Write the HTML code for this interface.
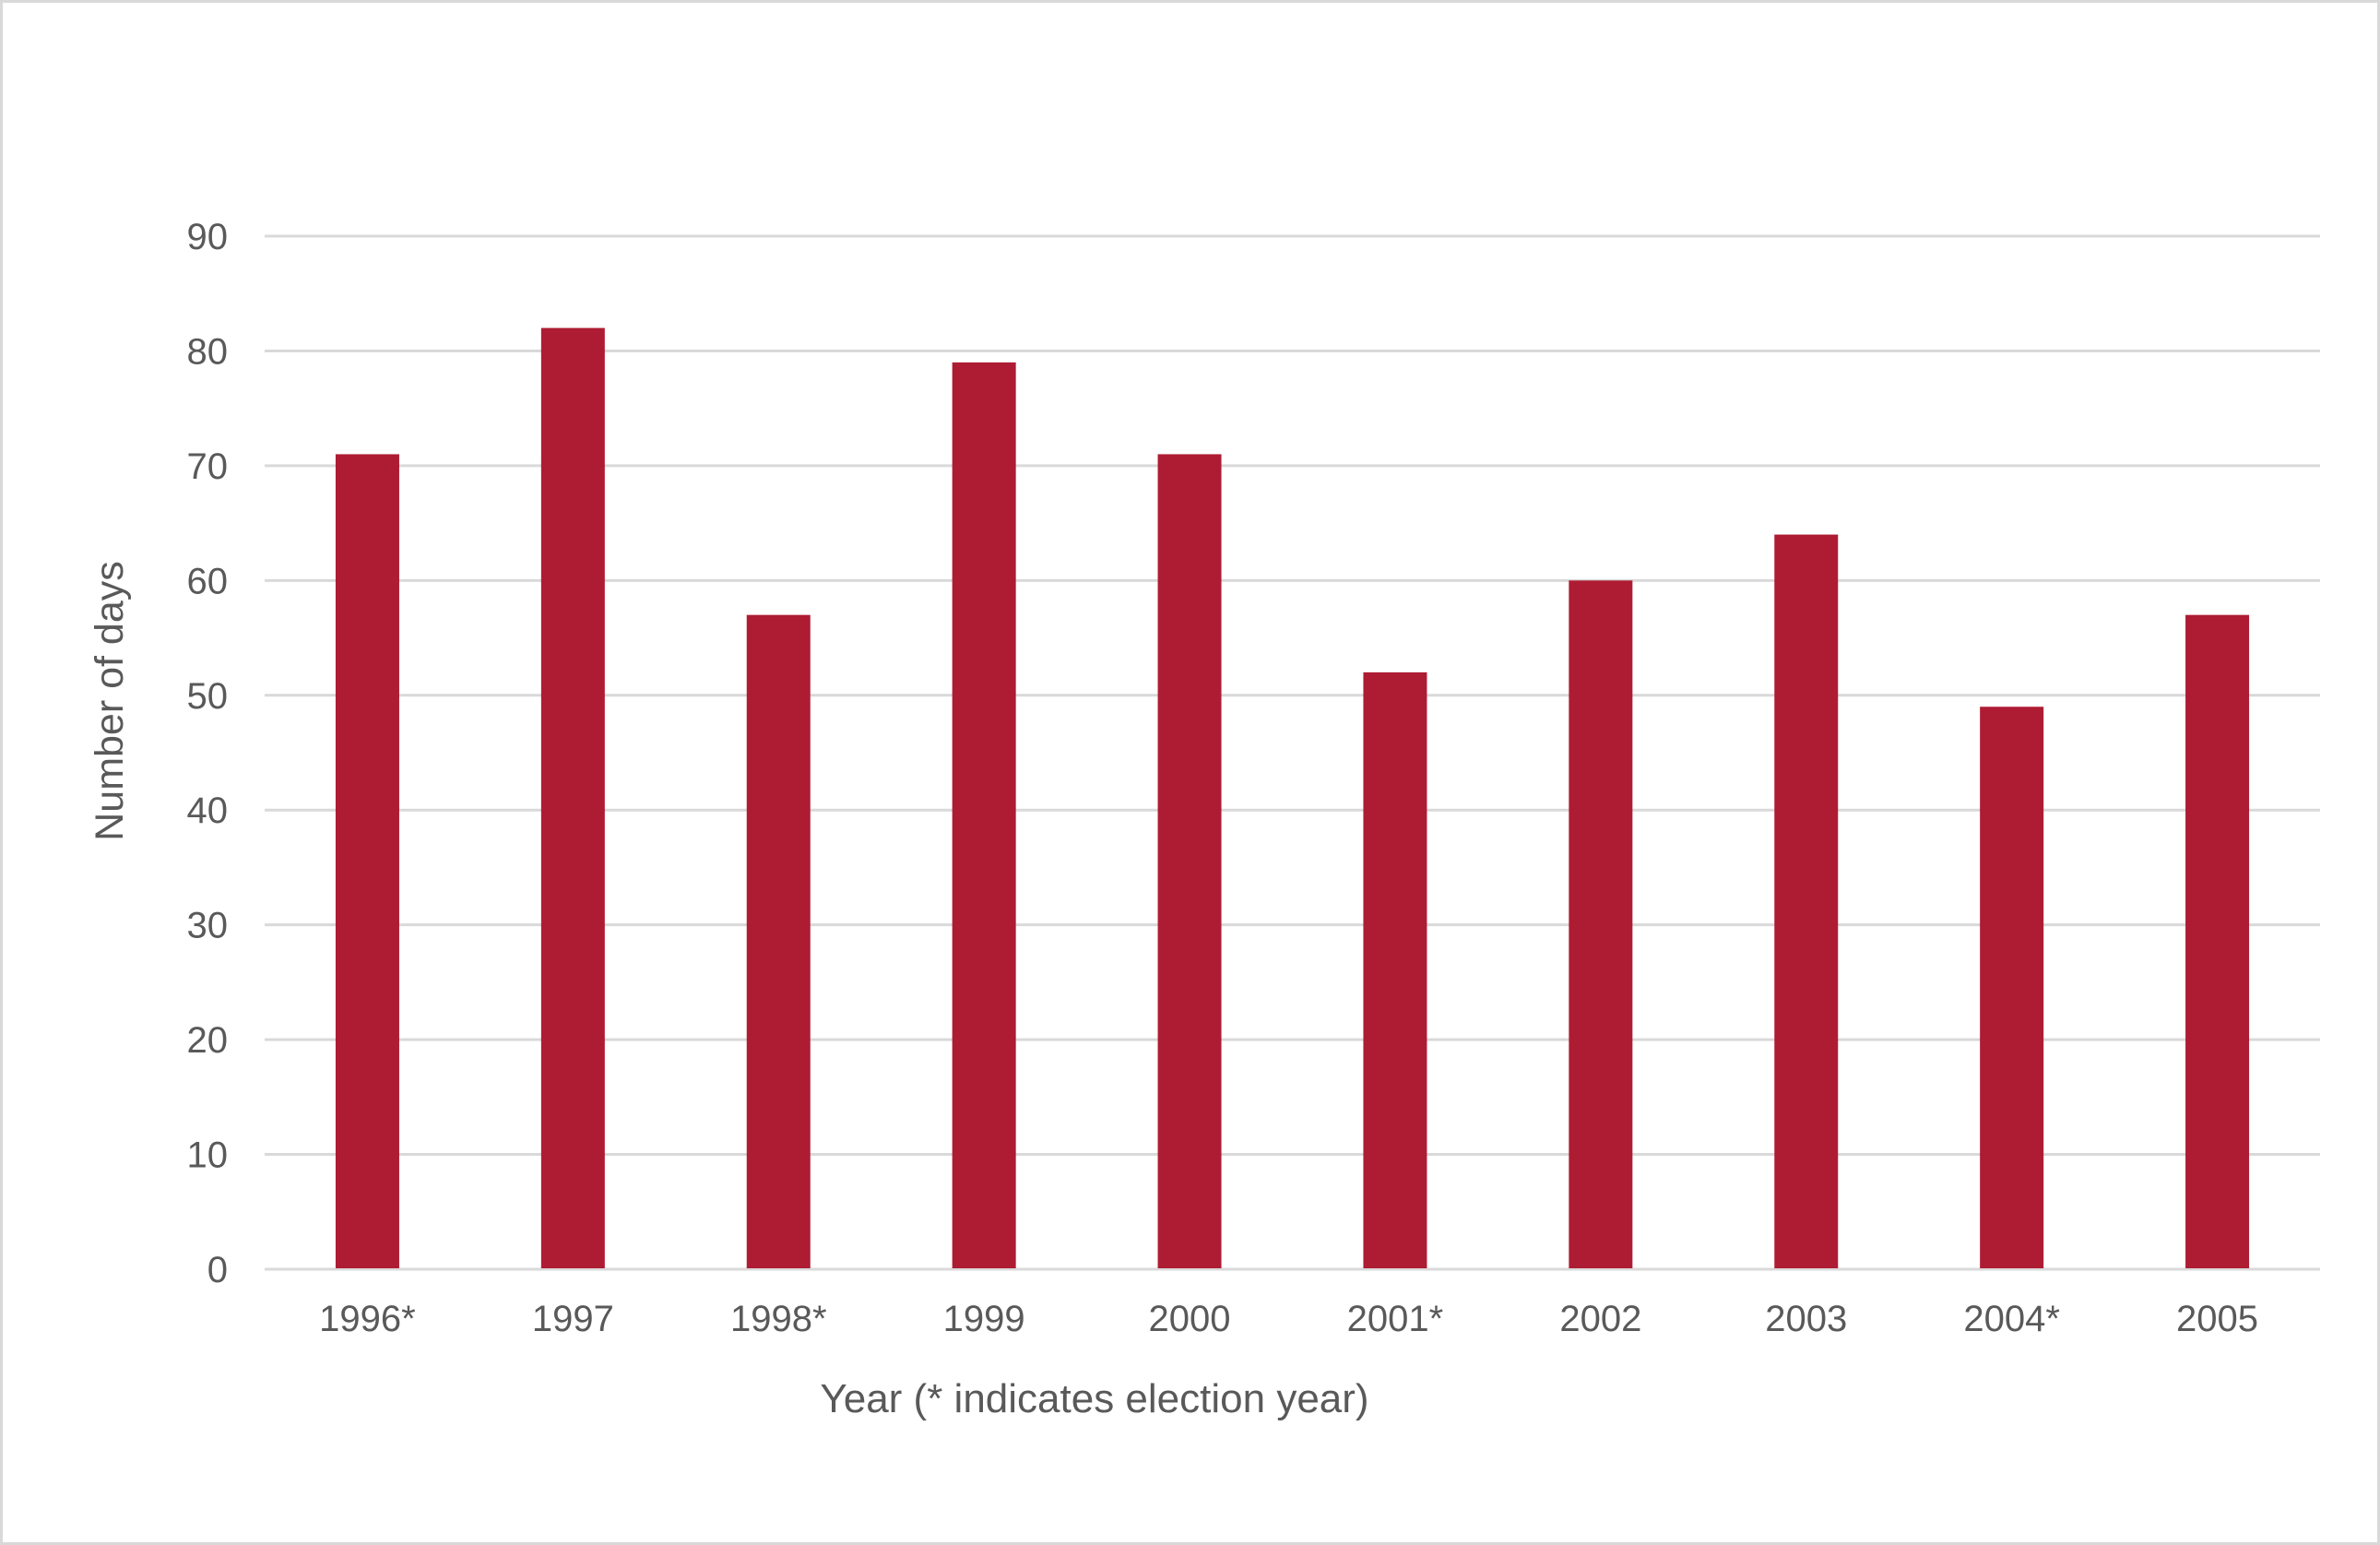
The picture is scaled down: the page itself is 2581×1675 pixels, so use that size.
<!DOCTYPE html>
<html><head><meta charset="utf-8"><style>
html,body{margin:0;padding:0;background:#fff;}
svg{display:block;font-family:"Liberation Sans",Arial,sans-serif;}
</style></head><body>
<svg id="chart" width="2581" height="1675" viewBox="0 0 2581 1675" xmlns="http://www.w3.org/2000/svg">
<rect x="1.5" y="1.5" width="2578" height="1672" fill="#fff" stroke="#d9d9d9" stroke-width="3"/>
<g id="grid"></g>
<g id="yticks"></g>
<g id="bars"></g>
<g id="xticks"></g>
<text transform="translate(133,760) rotate(-90)" text-anchor="middle" font-size="43" fill="#595959">Number of days</text>
<text x="1187" y="1531" text-anchor="middle" font-size="44" fill="#595959">Year (* indicates election year)</text>
</svg>
<script>
const categories = ["1996*","1997","1998*","1999","2000","2001*","2002","2003","2004*","2005"];
const values = [71,82,57,79,71,52,60,64,49,57];
const yTicks = [0,10,20,30,40,50,60,70,80,90];

const NS = "http://www.w3.org/2000/svg";
const left = 287, right = 2516, yTop = 256, yBot = 1376, yMax = 90;
const band = (right - left) / categories.length;
function xScale(i){ return left + band * (i + 0.5); }
function yScale(v){ return yBot - (v / yMax) * (yBot - yTop); }
function mk(tag, attrs){ const e = document.createElementNS(NS, tag); for (const k in attrs) e.setAttribute(k, attrs[k]); return e; }

const grid = document.getElementById('grid');
const yt = document.getElementById('yticks');
yTicks.forEach(t => {
  const y = yScale(t);
  const l = mk('line', {x1:left, x2:right, y1:y, y2:y, stroke:'#d9d9d9', 'stroke-width':3});
  
  
  grid.appendChild(l);
  const tx = mk('text', {x:247, y:y+14, 'text-anchor':'end', 'font-size':40, fill:'#595959'});
  tx.textContent = t;
  
  
  yt.appendChild(tx);
});

const bars = document.getElementById('bars');
const xt = document.getElementById('xticks');
const bw = 69;
values.forEach((v, i) => {
  const cx = xScale(i);
  const r = mk('rect', {x:cx - bw/2, y:yScale(v), width:bw, height:yBot - yScale(v) - 1, fill:'#ae1c33'});
  
  
  bars.appendChild(r);
  const tx = mk('text', {x:cx, y:1443, 'text-anchor':'middle', 'font-size':40, fill:'#595959'});
  tx.textContent = categories[i];
  
  
  xt.appendChild(tx);
});
</script>
</body></html>
